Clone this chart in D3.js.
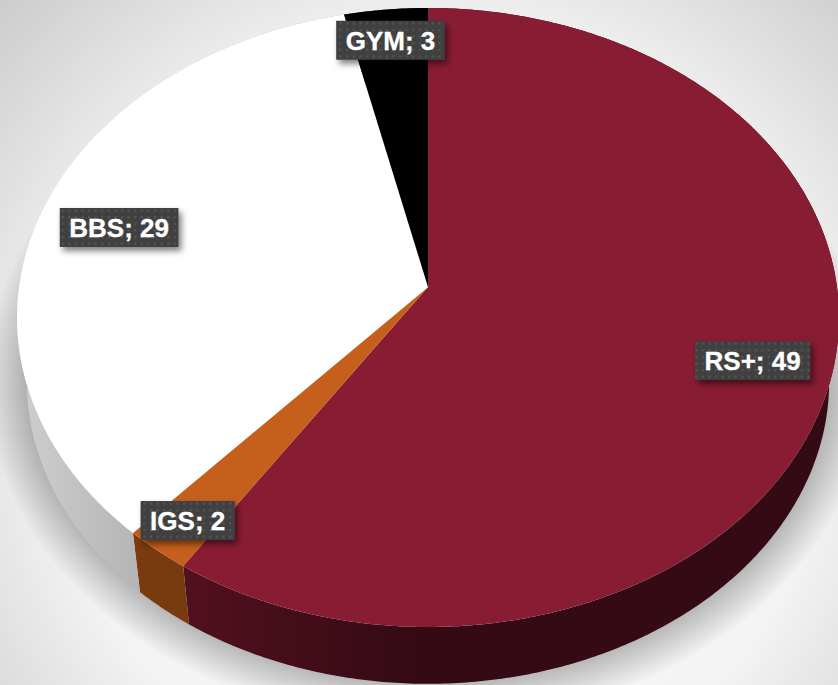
<!DOCTYPE html>
<html>
<head>
<meta charset="utf-8">
<script src="https://cdn.jsdelivr.net/npm/d3@7"></script>
<style>
html,body{margin:0;padding:0;background:#fff;overflow:hidden}
svg{display:block}
</style>
</head>
<body>
<svg id="chart"></svg>
<script>
var WIDTH=838, HEIGHT=685;

const categories=["RS+","IGS","BBS","GYM"];
const values=[49,2,29,3];
const topColors=["#881c33","#c75f1c","#ffffff","#000000"];
// wall colours from left to right of each slice
const wallColors=[["#52101f","#340a14","#340a14"],["#7c3b0f","#783a0f","#783a0f"],["#cfcfcf","#b6b6b6","#a4a4a4"],["#333","#333","#333"]];
const wallStops=[0,0.35,1];
// how far along the radius each label sits
const labelRadius=[0.81,0.895,0.795,0.88];

// perspective of the disc
var cx=428, cy=287, A=409, B=306.5, P=0.0985;
var baseScale=0.976, depth=65;
var TWIST=0.015; // the near side of the pie is turned a little

function project(angle,r){
    let a=angle+TWIST*(1-Math.cos(angle))/2;
    let u=r*Math.sin(a), v=-r*Math.cos(a);
    let w=1-P*v;
    return [cx+A*u/w, cy+B*v/w];
}
function projectBase(angle){
    let p=project(angle,1);
    return [cx+(p[0]-cx)*baseScale, cy+(p[1]-cy)*baseScale+depth];
}
function arcPoints(a0,a1,fn){
    let n=Math.max(2,Math.ceil((a1-a0)/0.01)), pts=[];
    for(let i=0;i<=n;i++) pts.push(fn(a0+(a1-a0)*i/n));
    return pts;
}

var line=d3.line();
var svg=d3.select("#chart").attr("width",WIDTH).attr("height",HEIGHT);
var defs=svg.append("defs");

// background
var bg=defs.append("radialGradient").attr("id","bg")
    .attr("gradientUnits","userSpaceOnUse")
    .attr("cx",440).attr("cy",420).attr("r",640);
bg.append("stop").attr("offset",0).attr("stop-color","#ffffff");
bg.append("stop").attr("offset",0.6).attr("stop-color","#f3f3f3");
bg.append("stop").attr("offset",0.75).attr("stop-color","#e2e2e2");
bg.append("stop").attr("offset",0.95).attr("stop-color","#cccccc");
svg.append("rect").attr("width",WIDTH).attr("height",HEIGHT).attr("fill","url(#bg)");

var ls=defs.append("filter").attr("id","labelShadow").attr("x","-20%").attr("y","-30%").attr("width","140%").attr("height","170%");
ls.append("feDropShadow").attr("dx",3).attr("dy",4).attr("stdDeviation",3)
    .attr("flood-color","#000").attr("flood-opacity",0.5);

var dots=defs.append("pattern").attr("id","dots").attr("patternUnits","userSpaceOnUse")
    .attr("width",6.6).attr("height",6.6);
dots.append("rect").attr("width",6.6).attr("height",6.6).attr("fill","#404040");
dots.append("rect").attr("x",2).attr("y",2).attr("width",2).attr("height",2).attr("fill","#585858");

var pie=d3.pie().sort(null).value(function(d){return d});
var arcs=pie(values);

// shadow under the pie: stacked soft strokes round the base
var baseOutline=line(arcPoints(0,2*Math.PI,projectBase))+"Z";
var shadow=svg.append("g").attr("class","shadow").attr("fill","none").attr("stroke","#000");
d3.range(4,84,4).forEach(function(sw){
    shadow.append("path").attr("d",baseOutline)
        .attr("stroke-width",sw).attr("stroke-opacity",0.0125);
});

// walls
var walls=svg.append("g").attr("class","walls");
arcs.forEach(function(d,i){
    let topEdge=arcPoints(d.startAngle,d.endAngle,function(a){return project(a,1)});
    let baseEdge=arcPoints(d.startAngle,d.endAngle,projectBase).reverse();
    let xs=topEdge.concat(baseEdge).map(function(p){return p[0]});
    let g=defs.append("linearGradient").attr("id","wall"+i)
        .attr("gradientUnits","userSpaceOnUse")
        .attr("x1",d3.min(xs)).attr("x2",d3.max(xs)).attr("y1",0).attr("y2",0);
    wallStops.forEach(function(s,j){
        g.append("stop").attr("offset",s).attr("stop-color",wallColors[i][j]);
    });
    walls.append("path")
        .attr("d",line(topEdge.concat(baseEdge))+"Z")
        .attr("fill","url(#wall"+i+")");
});

// top face
svg.append("g").attr("class","slices").selectAll("path").data(arcs).enter().append("path")
    .attr("d",function(d){
        let pts=arcPoints(d.startAngle,d.endAngle,function(a){return project(a,1)});
        return line([[cx,cy]].concat(pts))+"Z";
    })
    .attr("fill",function(d,i){return topColors[i]});

// labels
var labels=svg.append("g").attr("class","labels").selectAll("g").data(arcs).enter().append("g")
    .attr("transform",function(d,i){
        let p=project((d.startAngle+d.endAngle)/2,labelRadius[i]);
        return "translate("+p[0]+","+p[1]+")";
    });
labels.each(function(d,i){
    let g=d3.select(this);
    let text=g.append("text")
        .attr("text-anchor","middle").attr("y",9.5)
        .attr("font-family","'Liberation Sans',Arial,sans-serif")
        .attr("font-weight","bold").attr("font-size",26)
        .attr("fill","#fff").attr("stroke","#fff").attr("stroke-width",0.3)
        .text(categories[i]+"; "+values[i]);
    let w=text.node().getComputedTextLength()+19;
    g.insert("rect","text")
        .attr("x",-w/2).attr("y",-19.5).attr("width",w).attr("height",39)
        .attr("fill","url(#dots)").attr("filter","url(#labelShadow)");
});
</script>
</body>
</html>
